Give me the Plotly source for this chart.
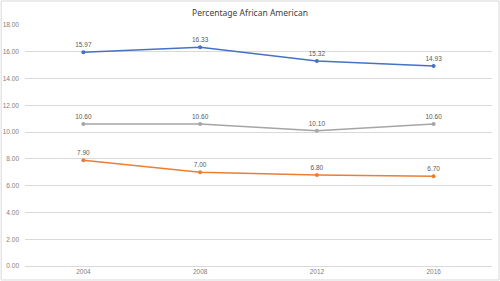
import plotly.graph_objects as go

# Data
years = ["2004", "2008", "2012", "2016"]
blue_vals = [15.97, 16.33, 15.32, 14.93]
gray_vals = [10.60, 10.60, 10.10, 10.60]
orange_vals = [7.90, 7.00, 6.80, 6.70]
y_ticks = [0, 2, 4, 6, 8, 10, 12, 14, 16, 18]

series = [
    (blue_vals, "#4472C4"),
    (gray_vals, "#A5A5A5"),
    (orange_vals, "#ED7D31"),
]

fig = go.Figure()
for vals, color in series:
    fig.add_trace(go.Scatter(
        x=years, y=vals, mode="lines+markers+text",
        line=dict(color=color, width=1.5),
        marker=dict(color=color, size=4),
        text=["%.2f" % v for v in vals],
        textposition="top center",
        textfont=dict(size=6.5, color="#595959", family="Liberation Sans"),
        showlegend=False, cliponaxis=False,
    ))

fig.update_layout(
    width=500, height=281,
    margin=dict(l=25, r=8, t=25, b=15, autoexpand=False),
    paper_bgcolor="white", plot_bgcolor="white",
    title=dict(text="Percentage African American", x=0.5, xanchor="center",
               y=0.955, yanchor="middle",
               font=dict(size=8.5, color="#404040", family="Noto Sans")),
    font=dict(family="Liberation Sans", size=6.5, color="#808080"),
)
fig.update_xaxes(type="category", range=[-0.5, 3.5], showgrid=False,
                 showline=False, ticks="", automargin=False,
                 tickfont=dict(size=6.5, color="#808080"))
fig.update_yaxes(range=[0, 18], tickvals=y_ticks,
                 ticktext=["%.2f" % t for t in y_ticks],
                 showgrid=True, gridcolor="#D9D9D9", gridwidth=1,
                 zeroline=True, zerolinecolor="#D9D9D9", zerolinewidth=1,
                 showline=False, ticks="", ticklabelstandoff=5,
                 automargin=False,
                 tickfont=dict(size=6.5, color="#808080"))
# thin frame around the whole chart
fig.add_shape(type="rect", xref="paper", yref="paper", x0=-0.051, y0=-0.058,
              x1=1.015, y1=1.0996, line=dict(color="#D9D9D9", width=1))

# page body has an 8px default margin; drop it so the chart fills the window
fig.write_html("out.html", config={"displayModeBar": False},
               post_script="document.body.style.margin='0';")
